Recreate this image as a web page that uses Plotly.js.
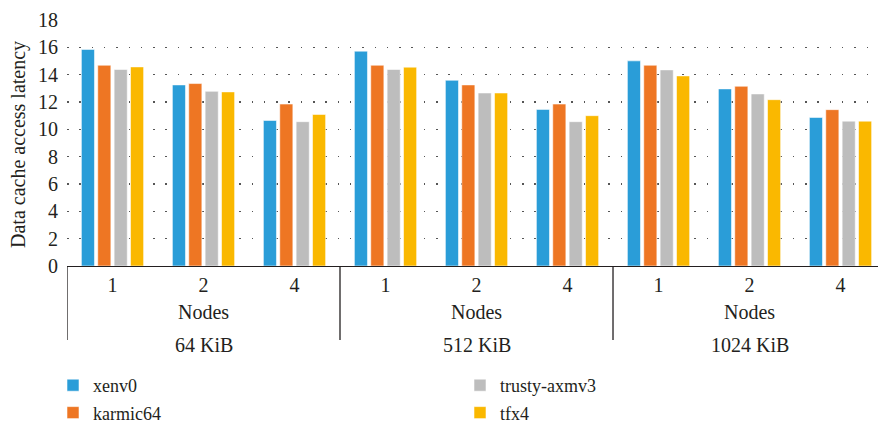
<!DOCTYPE html>
<html>
<head>
<meta charset="utf-8">
<script src="https://cdn.plot.ly/plotly-3.0.1.min.js"></script>
<style>html,body{margin:0;padding:0;background:#fff;overflow:hidden;}#chart{width:878px;height:423px;}</style>
</head>
<body>
<div id="chart"></div>
<script>
const groups = ['64 KiB', '512 KiB', '1024 KiB'];
const nodes = ['1', '2', '4'];
const groupAxisLabel = 'Nodes';
const yTitle = 'Data cache access latency';
const seriesNames = ['xenv0', 'karmic64', 'trusty-axmv3', 'tfx4'];
const xenv0 = [15.85, 13.25, 10.65, 15.72, 13.59, 11.46, 15.01, 12.96, 10.87];
const karmic64 = [14.69, 13.35, 11.85, 14.69, 13.25, 11.85, 14.69, 13.15, 11.44];
const trustyAxmv3 = [14.38, 12.78, 10.56, 14.38, 12.66, 10.56, 14.35, 12.59, 10.60];
const tfx4 = [14.57, 12.74, 11.09, 14.55, 12.66, 11.00, 13.91, 12.17, 10.60];
const seriesValues = [xenv0, karmic64, trustyAxmv3, tfx4];
const colors = ['#2A9DD8', '#EE7623', '#BDBDBD', '#FAB800'];
const legendFor = ['legend', 'legend', 'legend2', 'legend2'];

const FONT = 'Liberation Serif';
const TXT = '#231F20';

const xIdx = [];
const tickText = [];
groups.forEach((g, gi) => nodes.forEach((n, ni) => { xIdx.push(gi * nodes.length + ni); tickText.push(n); }));

const traces = seriesNames.map((name, i) => ({
  type: 'bar',
  name: name,
  x: xIdx,
  y: seriesValues[i],
  legend: legendFor[i],
  legendgroup: name,
  marker: { color: colors[i], line: { color: 'rgba(255,255,255,0.55)', width: 1 } },
  hoverinfo: 'x+y+name'
}));

const W = 878, H = 423, ML = 67, MT = 20, MB = 157;
const plotH = H - MT - MB;
const plotW = W - ML;
const px2paper = p => -p / plotH;

const shapes = [];
for (let gi = 0; gi < groups.length; gi++) {
  shapes.push({ type: 'line', xref: 'x', yref: 'paper', x0: gi * nodes.length - 0.5, x1: gi * nodes.length - 0.5,
    y0: 0, y1: px2paper(74), line: { color: '#231F20', width: 1.3 } });
}
const annotations = [];
groups.forEach((g, gi) => {
  const cx = gi * nodes.length + (nodes.length - 1) / 2;
  annotations.push({ xref: 'x', yref: 'paper', x: cx, y: px2paper(46), text: groupAxisLabel, showarrow: false,
    yanchor: 'middle', font: { family: FONT, size: 20, color: TXT } });
  annotations.push({ xref: 'x', yref: 'paper', x: cx, y: px2paper(79), text: g, showarrow: false,
    yanchor: 'middle', font: { family: FONT, size: 20, color: TXT } });
});
annotations.push({ xref: 'paper', yref: 'paper', x: (18 - ML) / plotW, y: (266 - 145) / plotH, text: yTitle,
  textangle: -90, showarrow: false, xanchor: 'center', yanchor: 'middle', font: { family: FONT, size: 20, color: TXT } });

const layout = {
  width: W, height: H,
  margin: { l: ML, r: 0, t: MT, b: MB, autoexpand: false },
  paper_bgcolor: '#fff', plot_bgcolor: '#fff',
  font: { family: FONT, size: 20, color: TXT },
  barmode: 'group', bargap: 0.28, bargroupgap: 0.2,
  xaxis: {
    range: [-0.5, 8.412], tickvals: xIdx, ticktext: tickText, showgrid: false, zeroline: false,
    showline: true, linecolor: '#231F20', linewidth: 1.3, ticks: '', ticklabelstandoff: 1,
    tickfont: { family: FONT, size: 20, color: TXT }, fixedrange: true, automargin: false
  },
  yaxis: {
    range: [0, 18], dtick: 2, tick0: 0, showgrid: true, gridcolor: '#555', gridwidth: 1.3,
    griddash: '1.5px,10.8px', zeroline: false, showline: false, ticks: '', ticklabelstandoff: 8,
    tickfont: { family: FONT, size: 20, color: TXT }, automargin: false
  },
  showlegend: true,
  legend: { xref: 'container', yref: 'container', x: 53 / W, y: 1 - 367 / H, xanchor: 'left', yanchor: 'top',
    orientation: 'v', traceorder: 'grouped', tracegroupgap: 1, font: { family: FONT, size: 18, color: TXT }, bgcolor: 'rgba(0,0,0,0)' },
  legend2: { xref: 'container', yref: 'container', x: 460 / W, y: 1 - 367 / H, xanchor: 'left', yanchor: 'top',
    orientation: 'v', traceorder: 'grouped', tracegroupgap: 1, font: { family: FONT, size: 18, color: TXT }, bgcolor: 'rgba(0,0,0,0)' },
  shapes: shapes,
  annotations: annotations
};

Plotly.newPlot('chart', traces, layout, { displayModeBar: false, staticPlot: true });
</script>
</body>
</html>
